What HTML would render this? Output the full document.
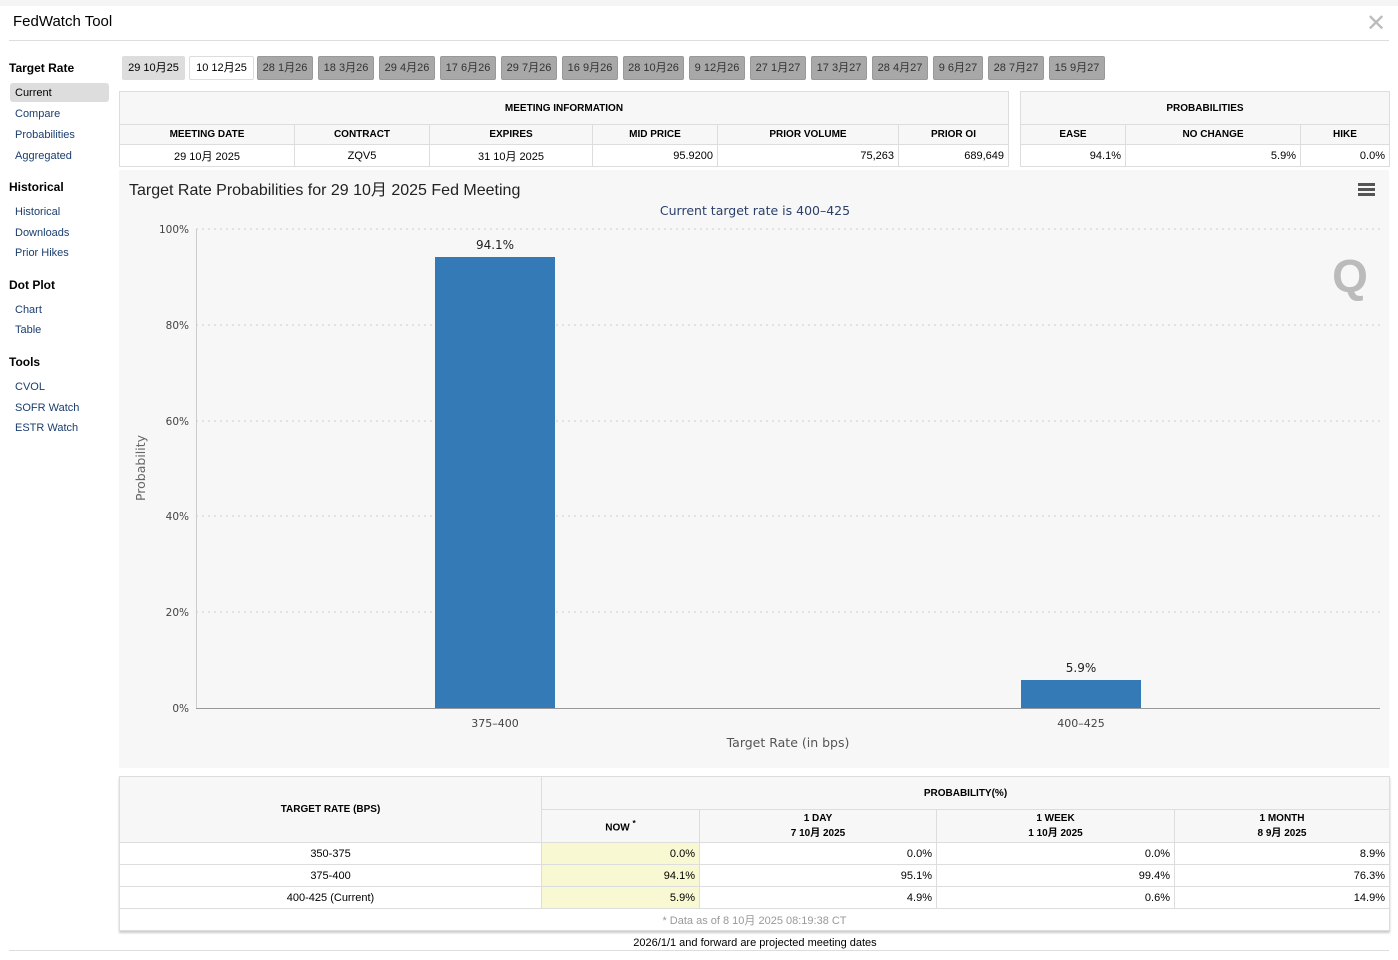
<!DOCTYPE html><html><head><meta charset="utf-8"><style>
*{box-sizing:border-box;margin:0;padding:0}
body{width:1398px;height:960px;background:#fff;font-family:"Liberation Sans","Noto Sans CJK SC",sans-serif;position:relative;overflow:hidden;color:#000}
.a{position:absolute}
.side{font-size:11px;color:#1a3e6e}
.sh{font-size:12px;font-weight:bold;color:#000}
.tab{position:absolute;top:56px;height:24px;background:#a8a8a8;border:1px solid #999;border-radius:2px;font-size:11px;color:#333;text-align:center;line-height:22px}
table{border-collapse:collapse;position:absolute;font-size:11px}
td{border:1px solid #ddd;padding:0 4px}
.h td{background:#f7f7f7;font-weight:bold;text-align:center;font-size:10px}
.r{text-align:right}.c{text-align:center}
</style></head><body>
<div class="a" style="left:0;top:0;width:1398px;height:6px;background:#f5f5f5"></div>
<div class="a" style="left:13px;top:13px;font-size:15px">FedWatch Tool</div>
<div class="a" style="left:1366px;top:9px;font-size:24px;color:#bbb">✕</div>
<div class="a" style="left:9px;top:40px;width:1380px;height:1px;background:#ddd"></div>

<div class="a sh" style="left:9px;top:61px">Target Rate</div>
<div class="a" style="left:10px;top:83px;width:99px;height:19px;background:#ddd;border-radius:3px"></div>
<div class="a side" style="left:15px;top:87px;color:#000">Current</div>
<div class="a side" style="left:15px;top:108px">Compare</div>
<div class="a side" style="left:15px;top:129px">Probabilities</div>
<div class="a side" style="left:15px;top:150px">Aggregated</div>
<div class="a sh" style="left:9px;top:180px">Historical</div>
<div class="a side" style="left:15px;top:206px">Historical</div>
<div class="a side" style="left:15px;top:227px">Downloads</div>
<div class="a side" style="left:15px;top:247px">Prior Hikes</div>
<div class="a sh" style="left:9px;top:278px">Dot Plot</div>
<div class="a side" style="left:15px;top:304px">Chart</div>
<div class="a side" style="left:15px;top:324px">Table</div>
<div class="a sh" style="left:9px;top:355px">Tools</div>
<div class="a side" style="left:15px;top:381px">CVOL</div>
<div class="a side" style="left:15px;top:402px">SOFR Watch</div>
<div class="a side" style="left:15px;top:422px">ESTR Watch</div>

<div class="tab" style="left:122px;width:63px;background:#ddd;border-color:#ddd;color:#000">29 10月25</div>
<div class="tab" style="left:189px;width:65px;background:#fff;border-color:#ddd;color:#000">10 12月25</div>
<div class="tab" style="left:257px;width:56px">28 1月26</div>
<div class="tab" style="left:318px;width:56px">18 3月26</div>
<div class="tab" style="left:379px;width:56px">29 4月26</div>
<div class="tab" style="left:440px;width:56px">17 6月26</div>
<div class="tab" style="left:501px;width:56px">29 7月26</div>
<div class="tab" style="left:562px;width:56px">16 9月26</div>
<div class="tab" style="left:623px;width:61px">28 10月26</div>
<div class="tab" style="left:689px;width:56px">9 12月26</div>
<div class="tab" style="left:750px;width:56px">27 1月27</div>
<div class="tab" style="left:811px;width:56px">17 3月27</div>
<div class="tab" style="left:872px;width:56px">28 4月27</div>
<div class="tab" style="left:933px;width:50px">9 6月27</div>
<div class="tab" style="left:988px;width:56px">28 7月27</div>
<div class="tab" style="left:1049px;width:56px">15 9月27</div>

<table style="left:119px;top:91px;width:890px">
<tr class="h" style="height:33px"><td colspan="6">MEETING INFORMATION</td></tr>
<tr class="h" style="height:20px"><td style="width:175px">MEETING DATE</td><td style="width:135px">CONTRACT</td><td style="width:163px">EXPIRES</td><td style="width:125px">MID PRICE</td><td style="width:181px">PRIOR VOLUME</td><td>PRIOR OI</td></tr>
<tr style="height:22px"><td class="c">29 10月 2025</td><td class="c">ZQV5</td><td class="c">31 10月 2025</td><td class="r">95.9200</td><td class="r">75,263</td><td class="r">689,649</td></tr>
</table>
<table style="left:1020px;top:91px;width:370px">
<tr class="h" style="height:33px"><td colspan="3">PROBABILITIES</td></tr>
<tr class="h" style="height:20px"><td style="width:105px">EASE</td><td style="width:175px">NO CHANGE</td><td>HIKE</td></tr>
<tr style="height:22px"><td class="r">94.1%</td><td class="r">5.9%</td><td class="r">0.0%</td></tr>
</table>

<div class="a" style="left:119px;top:170px;width:1270px;height:598px;background:#f7f7f7"></div>
<div class="a" style="left:129px;top:176px;font-size:16px;color:#222">Target Rate Probabilities for 29 10月 2025 Fed Meeting</div>
<div class="a" style="left:1358px;top:183px;width:17px;height:3px;background:#555;box-shadow:0 5px 0 #555,0 10px 0 #555"></div>
<svg class="a" style="left:0;top:0" width="1398" height="960" font-family="DejaVu Sans, sans-serif">
<text x="755" y="215" font-size="12.5" fill="#2a3f6a" text-anchor="middle">Current target rate is 400–425</text>
<g stroke="#ccc" stroke-dasharray="2,4">
<line x1="196" x2="1380" y1="229" y2="229"/><line x1="196" x2="1380" y1="325" y2="325"/><line x1="196" x2="1380" y1="421" y2="421"/><line x1="196" x2="1380" y1="516" y2="516"/><line x1="196" x2="1380" y1="612" y2="612"/></g>
<line x1="196.5" x2="196.5" y1="229" y2="708" stroke="#ccc"/>
<line x1="196" x2="1380" y1="708.5" y2="708.5" stroke="#999"/>
<g font-size="10.5" fill="#444" text-anchor="end">
<text x="189" y="233">100%</text><text x="189" y="329">80%</text><text x="189" y="425">60%</text><text x="189" y="520">40%</text><text x="189" y="616">20%</text><text x="189" y="712">0%</text></g>
<rect x="435" y="257" width="120" height="451" fill="#337ab7"/>
<rect x="1021" y="680" width="120" height="28" fill="#337ab7"/>
<g font-size="12" fill="#222" text-anchor="middle"><text x="495" y="249">94.1%</text><text x="1081" y="672">5.9%</text></g>
<g font-size="11" fill="#444" text-anchor="middle"><text x="495" y="727">375–400</text><text x="1081" y="727">400–425</text></g>
<text x="788" y="747" font-size="12.5" fill="#555" text-anchor="middle">Target Rate (in bps)</text>
<text transform="translate(145,468) rotate(-90)" font-size="12.5" fill="#666" text-anchor="middle">Probability</text>
<text x="1350" y="292" font-size="46" font-weight="bold" fill="#bbb" text-anchor="middle" font-family="Liberation Sans">Q</text>
</svg>

<table style="left:119px;top:776px;width:1271px;box-shadow:0 2px 2px #ccc">
<tr class="h" style="height:33px"><td rowspan="2" style="width:422px">TARGET RATE (BPS)</td><td colspan="4">PROBABILITY(%)</td></tr>
<tr class="h" style="height:33px"><td style="width:158px">NOW <sup>*</sup></td><td style="width:237px">1 DAY<br>7 10月 2025</td><td style="width:238px">1 WEEK<br>1 10月 2025</td><td>1 MONTH<br>8 9月 2025</td></tr>
<tr style="height:22px"><td class="c">350-375</td><td class="r" style="background:#f8f8d2">0.0%</td><td class="r">0.0%</td><td class="r">0.0%</td><td class="r">8.9%</td></tr>
<tr style="height:22px"><td class="c">375-400</td><td class="r" style="background:#f8f8d2">94.1%</td><td class="r">95.1%</td><td class="r">99.4%</td><td class="r">76.3%</td></tr>
<tr style="height:22px"><td class="c">400-425 (Current)</td><td class="r" style="background:#f8f8d2">5.9%</td><td class="r">4.9%</td><td class="r">0.6%</td><td class="r">14.9%</td></tr>
<tr style="height:22px"><td colspan="5" class="c" style="color:#999">* Data as of 8 10月 2025 08:19:38 CT</td></tr>
</table>
<div class="a" style="left:0;width:1510px;top:937px;font-size:11px;text-align:center">2026/1/1 and forward are projected meeting dates</div>
<div class="a" style="left:9px;top:950px;width:1380px;height:1px;background:#ddd"></div>
</body></html>
